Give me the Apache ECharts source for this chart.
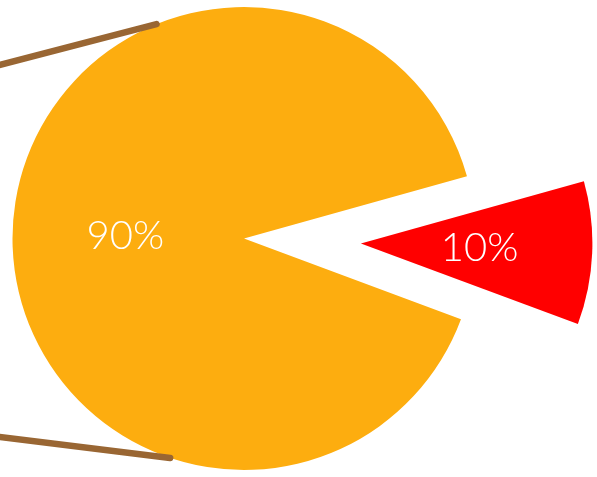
<!DOCTYPE html>
<html>
<head>
<meta charset="utf-8">
<script src="https://cdn.jsdelivr.net/npm/echarts@6/dist/echarts.min.js"></script>
<style>
html,body{margin:0;padding:0;background:#fff;}
#main{width:597px;height:477px;}
</style>
</head>
<body>
<div id="main"></div>
<script>
var categories = ['Part B', 'Part A'];
var values = [10, 90];
var colors = ['#FF0000', '#FDAD0F'];
// decorative brown strokes: angle on the pie rim (deg) and far end
var strokeAngles = [112.2, 251.4];
var strokeEnds = [[-20, 70], [-20, 434.5]];

var cx = 244, cy = 238.5, R = 231.5;
var chart = echarts.init(document.getElementById('main'));
var data = categories.map(function (c, i) {
  return { name: c, value: values[i], selected: i === 0, itemStyle: { color: colors[i] } };
});
var graphics = strokeAngles.map(function (a, i) {
  var rad = a * Math.PI / 180;
  return {
    type: 'line', z: 100,
    shape: { x1: cx + R * Math.cos(rad), y1: cy - R * Math.sin(rad), x2: strokeEnds[i][0], y2: strokeEnds[i][1] },
    style: { stroke: '#996633', lineWidth: 6.5, lineCap: 'round' }
  };
});
chart.setOption({
  animation: false,
  graphic: graphics,
  series: [{
    type: 'pie',
    center: [cx, cy],
    radius: [0, R],
    startAngle: 15.6,
    selectedMode: 'single',
    selectedOffset: 117,
    data: data,
    label: {
      show: true, position: 'inside', formatter: '{d}%',
      color: '#fff', fontSize: 40, fontFamily: 'Lato', fontWeight: 300,
      offset: [0, 3]
    },
    labelLine: { show: false },
    emphasis: { disabled: true }
  }]
});
</script>
</body>
</html>
